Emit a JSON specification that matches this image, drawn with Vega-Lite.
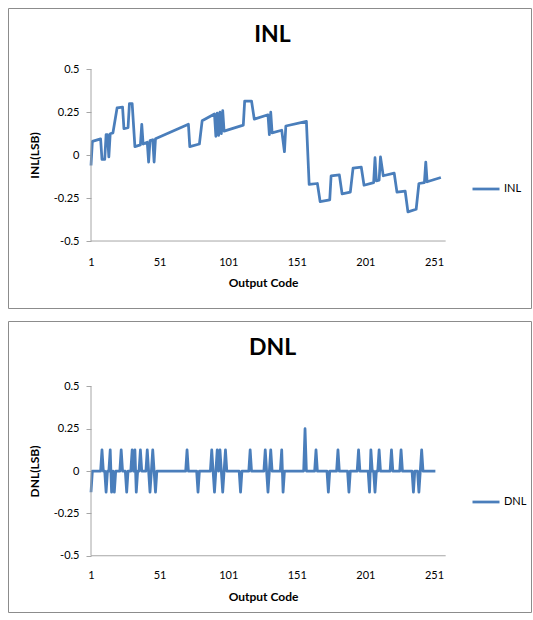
{
  "$schema": "https://vega.github.io/schema/vega-lite/v6.json",
  "padding": {"left": 7, "top": 7, "right": 0, "bottom": 0},
  "background": "white",
  "resolve": {"scale": {"color": "independent"}, "legend": {"color": "independent"}},
  "datasets": {
    "inl": [
      {"code":1,"value":-0.06},{"code":2,"value":0.08},{"code":8,"value":0.095},{"code":9,"value":-0.025},{"code":11,"value":-0.025},{"code":12,"value":0.12},{"code":13,"value":0.12},{"code":14,"value":-0.01},{"code":15,"value":0.125},{"code":17,"value":0.13},{"code":20,"value":0.275},{"code":24,"value":0.28},{"code":25,"value":0.155},{"code":28,"value":0.16},{"code":29,"value":0.3},{"code":31,"value":0.3},{"code":33,"value":0.05},{"code":37,"value":0.06},{"code":38,"value":0.18},{"code":39,"value":0.065},{"code":42,"value":0.075},{"code":43,"value":-0.04},{"code":44,"value":0.085},{"code":46,"value":0.09},{"code":47,"value":-0.04},{"code":48,"value":0.095},{"code":72,"value":0.18},{"code":73,"value":0.05},{"code":80,"value":0.065},{"code":82,"value":0.2},{"code":91,"value":0.24},{"code":92,"value":0.11},{"code":93,"value":0.245},{"code":94,"value":0.115},{"code":95,"value":0.25},{"code":96,"value":0.125},{"code":97,"value":0.26},{"code":98,"value":0.14},{"code":112,"value":0.175},{"code":113,"value":0.315},{"code":118,"value":0.315},{"code":120,"value":0.21},{"code":130,"value":0.235},{"code":131,"value":0.12},{"code":132,"value":0.25},{"code":133,"value":0.13},{"code":140,"value":0.145},{"code":142,"value":0.02},{"code":143,"value":0.17},{"code":158,"value":0.197},{"code":160,"value":-0.17},{"code":166,"value":-0.165},{"code":168,"value":-0.27},{"code":175,"value":-0.26},{"code":176,"value":-0.12},{"code":182,"value":-0.115},{"code":184,"value":-0.225},{"code":190,"value":-0.215},{"code":192,"value":-0.075},{"code":198,"value":-0.07},{"code":200,"value":-0.175},{"code":207,"value":-0.16},{"code":208,"value":-0.015},{"code":209,"value":-0.15},{"code":211,"value":-0.145},{"code":212,"value":-0.01},{"code":214,"value":-0.12},{"code":222,"value":-0.105},{"code":224,"value":-0.215},{"code":230,"value":-0.21},{"code":232,"value":-0.33},{"code":238,"value":-0.315},{"code":240,"value":-0.165},{"code":244,"value":-0.16},{"code":245,"value":-0.04},{"code":246,"value":-0.155},{"code":256,"value":-0.13}
    ],
    "dnl": [
      {"code":1,"value":-0.125},{"code":2,"value":0},{"code":3,"value":0},{"code":4,"value":0},{"code":5,"value":0},{"code":6,"value":0},{"code":7,"value":0},{"code":8,"value":0},{"code":9,"value":0.125},{"code":10,"value":0},
      {"code":11,"value":0},{"code":12,"value":-0.125},{"code":13,"value":0},{"code":14,"value":0},{"code":15,"value":0.125},{"code":16,"value":-0.125},{"code":17,"value":0},{"code":18,"value":-0.125},{"code":19,"value":0},{"code":20,"value":0},
      {"code":21,"value":0},{"code":22,"value":0},{"code":23,"value":0.125},{"code":24,"value":0},{"code":25,"value":0},{"code":26,"value":0},{"code":27,"value":-0.125},{"code":28,"value":0},{"code":29,"value":0},{"code":30,"value":0},
      {"code":31,"value":0.125},{"code":32,"value":0},{"code":33,"value":0.125},{"code":34,"value":-0.125},{"code":35,"value":0},{"code":36,"value":0},{"code":37,"value":0.125},{"code":38,"value":0},{"code":39,"value":0},{"code":40,"value":0},
      {"code":41,"value":0},{"code":42,"value":0.125},{"code":43,"value":0},{"code":44,"value":-0.125},{"code":45,"value":0},{"code":46,"value":0.125},{"code":47,"value":0},{"code":48,"value":-0.125},{"code":49,"value":0},{"code":50,"value":0},
      {"code":51,"value":0},{"code":52,"value":0},{"code":53,"value":0},{"code":54,"value":0},{"code":55,"value":0},{"code":56,"value":0},{"code":57,"value":0},{"code":58,"value":0},{"code":59,"value":0},{"code":60,"value":0},
      {"code":61,"value":0},{"code":62,"value":0},{"code":63,"value":0},{"code":64,"value":0},{"code":65,"value":0},{"code":66,"value":0},{"code":67,"value":0},{"code":68,"value":0},{"code":69,"value":0},{"code":70,"value":0},
      {"code":71,"value":0.125},{"code":72,"value":0},{"code":73,"value":0},{"code":74,"value":0},{"code":75,"value":0},{"code":76,"value":0},{"code":77,"value":0},{"code":78,"value":0},{"code":79,"value":-0.125},{"code":80,"value":0},
      {"code":81,"value":0},{"code":82,"value":0},{"code":83,"value":0},{"code":84,"value":0},{"code":85,"value":0},{"code":86,"value":0},{"code":87,"value":0},{"code":88,"value":0},{"code":89,"value":0.125},{"code":90,"value":0},
      {"code":91,"value":-0.125},{"code":92,"value":0},{"code":93,"value":0.125},{"code":94,"value":0},{"code":95,"value":0.125},{"code":96,"value":0},{"code":97,"value":-0.125},{"code":98,"value":0},{"code":99,"value":0.125},{"code":100,"value":0},
      {"code":101,"value":0},{"code":102,"value":0},{"code":103,"value":0},{"code":104,"value":0},{"code":105,"value":0},{"code":106,"value":0},{"code":107,"value":0},{"code":108,"value":0},{"code":109,"value":0},{"code":110,"value":-0.125},
      {"code":111,"value":0},{"code":112,"value":0},{"code":113,"value":0},{"code":114,"value":0},{"code":115,"value":0},{"code":116,"value":0},{"code":117,"value":0.125},{"code":118,"value":0},{"code":119,"value":0},{"code":120,"value":0},
      {"code":121,"value":0},{"code":122,"value":0},{"code":123,"value":0},{"code":124,"value":0},{"code":125,"value":0},{"code":126,"value":0},{"code":127,"value":0},{"code":128,"value":0.125},{"code":129,"value":0},{"code":130,"value":-0.125},
      {"code":131,"value":0},{"code":132,"value":0.125},{"code":133,"value":0},{"code":134,"value":0},{"code":135,"value":0},{"code":136,"value":0},{"code":137,"value":0},{"code":138,"value":0},{"code":139,"value":0},{"code":140,"value":0.125},
      {"code":141,"value":-0.125},{"code":142,"value":0},{"code":143,"value":0},{"code":144,"value":0},{"code":145,"value":0},{"code":146,"value":0},{"code":147,"value":0},{"code":148,"value":0},{"code":149,"value":0},{"code":150,"value":0},
      {"code":151,"value":0},{"code":152,"value":0},{"code":153,"value":0},{"code":154,"value":0},{"code":155,"value":0},{"code":156,"value":0},{"code":157,"value":0.25},{"code":158,"value":0},{"code":159,"value":0},{"code":160,"value":0},
      {"code":161,"value":0},{"code":162,"value":0},{"code":163,"value":0},{"code":164,"value":0},{"code":165,"value":0.125},{"code":166,"value":0},{"code":167,"value":0},{"code":168,"value":0},{"code":169,"value":0},{"code":170,"value":0},
      {"code":171,"value":0},{"code":172,"value":0},{"code":173,"value":0},{"code":174,"value":-0.125},{"code":175,"value":0},{"code":176,"value":0},{"code":177,"value":0},{"code":178,"value":0},{"code":179,"value":0},{"code":180,"value":0},
      {"code":181,"value":0.125},{"code":182,"value":0},{"code":183,"value":0},{"code":184,"value":0},{"code":185,"value":0},{"code":186,"value":0},{"code":187,"value":0},{"code":188,"value":0},{"code":189,"value":-0.125},{"code":190,"value":0},
      {"code":191,"value":0},{"code":192,"value":0},{"code":193,"value":0},{"code":194,"value":0},{"code":195,"value":0},{"code":196,"value":0.125},{"code":197,"value":0},{"code":198,"value":0},{"code":199,"value":0},{"code":200,"value":0},
      {"code":201,"value":0},{"code":202,"value":0},{"code":203,"value":0},{"code":204,"value":-0.125},{"code":205,"value":0.125},{"code":206,"value":0},{"code":207,"value":0},{"code":208,"value":-0.125},{"code":209,"value":0},{"code":210,"value":0},
      {"code":211,"value":0.125},{"code":212,"value":0},{"code":213,"value":0},{"code":214,"value":0},{"code":215,"value":0},{"code":216,"value":0},{"code":217,"value":0},{"code":218,"value":0},{"code":219,"value":0},{"code":220,"value":0.125},
      {"code":221,"value":0},{"code":222,"value":0},{"code":223,"value":0},{"code":224,"value":0},{"code":225,"value":0},{"code":226,"value":0},{"code":227,"value":0.125},{"code":228,"value":0},{"code":229,"value":0},{"code":230,"value":0},
      {"code":231,"value":0},{"code":232,"value":0},{"code":233,"value":0},{"code":234,"value":0},{"code":235,"value":0},{"code":236,"value":-0.125},{"code":237,"value":0},{"code":238,"value":0},{"code":239,"value":0},{"code":240,"value":-0.125},
      {"code":241,"value":0},{"code":242,"value":0.125},{"code":243,"value":0},{"code":244,"value":0},{"code":245,"value":0},{"code":246,"value":0},{"code":247,"value":0},{"code":248,"value":0},{"code":249,"value":0},{"code":250,"value":0},
      {"code":251,"value":0},{"code":252,"value":0}
    ]
  },
  "config": {
    "view": {"stroke": "#8c8c8c", "strokeWidth": 1},
    "font": "Lato",
    "concat": {"spacing": 11},
    "axis": {
      "labelFont": "Lato", "labelFontSize": 11, "labelColor": "#000000",
      "titleFont": "Lato", "titleFontSize": 12, "titleFontWeight": "bold", "titleColor": "#000000",
      "grid": false, "domain": false, "tickColor": "#a6a6a6"
    },
    "legend": {"labelFont": "Lato", "labelFontSize": 11, "labelColor": "#000000", "labelOffset": 3},
    "title": {"font": "Lato", "fontSize": 23, "fontWeight": "bold", "color": "#000000"}
  },
  "vconcat": [
    {
      "width": 523,
      "height": 300,
      "title": {"text": "INL", "anchor": "middle", "frame": "group", "offset": -50, "baseline": "middle", "dx": 3},
      "layer": [
        {
          "data": {"name": "inl"},
          "mark": {"type": "line", "strokeWidth": 2.75, "strokeJoin": "round"},
          "encoding": {
            "x": {
              "field": "code", "type": "quantitative",
              "scale": {"domain": [-59.5, 321.7], "nice": false, "zero": false},
              "axis": {"orient": "bottom", "offset": -67, "values": [1, 51, 101, 151, 201, 251], "ticks": false, "labelPadding": 15, "title": "Output Code", "titleX": 255, "titleY": 41, "titleBaseline": "middle"}
            },
            "y": {
              "field": "value", "type": "quantitative",
              "scale": {"domain": [-0.89, 0.857], "nice": false, "zero": false},
              "axis": {"orient": "left", "offset": -83, "values": [-0.5, -0.25, 0, 0.25, 0.5], "labelExpr": "'' + datum.value", "tickSize": 5, "labelPadding": 7, "title": "INL(LSB)", "titleAngle": -90, "titleX": -57, "titleY": 147, "titleBaseline": "middle", "titleAlign": "center"}
            },
            "color": {
              "datum": "INL",
              "scale": {"range": ["#4a7ebb"]},
              "legend": {"orient": "none", "legendX": 463, "legendY": 166, "title": null, "symbolType": "stroke", "symbolSize": 729, "symbolStrokeWidth": 2.75}
            }
          }
        },
        {
          "data": {"values": [{}]},
          "mark": {"type": "rule", "color": "#a6a6a6", "strokeWidth": 1},
          "encoding": {
            "x": {"datum": 1, "type": "quantitative"},
            "y": {"datum": -0.5, "type": "quantitative"},
            "y2": {"datum": 0.5}
          }
        },
        {
          "data": {"values": [{}]},
          "mark": {"type": "rule", "color": "#a6a6a6", "strokeWidth": 1},
          "encoding": {
            "x": {"datum": 1, "type": "quantitative"},
            "x2": {"datum": 259.5},
            "y": {"datum": -0.5, "type": "quantitative"}
          }
        }
      ]
    },
    {
      "width": 523,
      "height": 291,
      "title": {"text": "DNL", "anchor": "middle", "frame": "group", "offset": -50, "baseline": "middle", "dx": 3},
      "layer": [
        {
          "data": {"name": "dnl"},
          "mark": {"type": "line", "strokeWidth": 2.75, "strokeJoin": "round"},
          "encoding": {
            "x": {
              "field": "code", "type": "quantitative",
              "scale": {"domain": [-59.5, 321.7], "nice": false, "zero": false},
              "axis": {"orient": "bottom", "offset": -59.5, "values": [1, 51, 101, 151, 201, 251], "ticks": false, "labelPadding": 17, "title": "Output Code", "titleX": 255, "titleY": 44, "titleBaseline": "middle"}
            },
            "y": {
              "field": "value", "type": "quantitative",
              "scale": {"domain": [-0.832, 0.886], "nice": false, "zero": false},
              "axis": {"orient": "left", "offset": -83, "values": [-0.5, -0.25, 0, 0.25, 0.5], "labelExpr": "'' + datum.value", "tickSize": 5, "labelPadding": 7, "title": "DNL(LSB)", "titleAngle": -90, "titleX": -57, "titleY": 150, "titleBaseline": "middle", "titleAlign": "center"}
            },
            "color": {
              "datum": "DNL",
              "scale": {"range": ["#4a7ebb"]},
              "legend": {"orient": "none", "legendX": 463, "legendY": 166, "title": null, "symbolType": "stroke", "symbolSize": 729, "symbolStrokeWidth": 2.75}
            }
          }
        },
        {
          "data": {"values": [{}]},
          "mark": {"type": "rule", "color": "#a6a6a6", "strokeWidth": 1},
          "encoding": {
            "x": {"datum": 1, "type": "quantitative"},
            "y": {"datum": -0.5, "type": "quantitative"},
            "y2": {"datum": 0.5}
          }
        },
        {
          "data": {"values": [{}]},
          "mark": {"type": "rule", "color": "#a6a6a6", "strokeWidth": 1},
          "encoding": {
            "x": {"datum": 1, "type": "quantitative"},
            "x2": {"datum": 259.5},
            "y": {"datum": -0.5, "type": "quantitative"}
          }
        }
      ]
    }
  ]
}
